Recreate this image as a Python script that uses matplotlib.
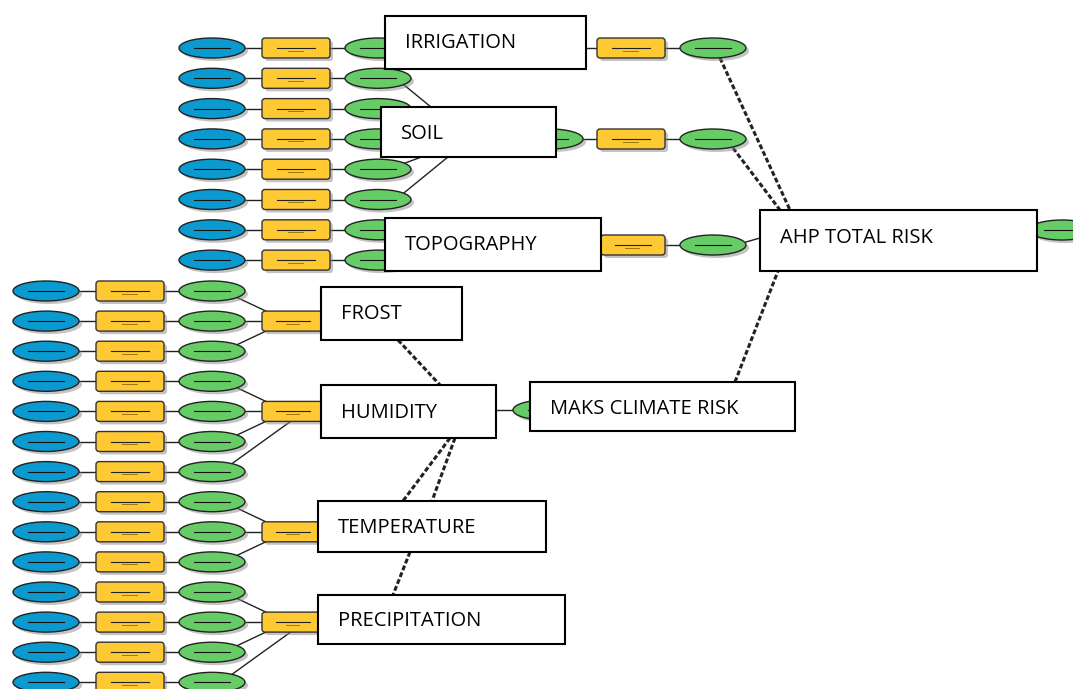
import matplotlib
matplotlib.use('Agg')
import matplotlib.pyplot as plt
from matplotlib.patches import Ellipse, FancyBboxPatch, Rectangle

# model structure: factor groups and number of input rows feeding each one
site_groups = ['IRRIGATION', 'SOIL', 'TOPOGRAPHY']
site_rows = [1, 5, 2]
climate_groups = ['FROST', 'HUMIDITY', 'TEMPERATURE', 'PRECIPITATION']
climate_rows = [3, 4, 3, 4]
total_label = 'AHP TOTAL RISK'
climate_label = 'MAKS CLIMATE RISK'

BLUE = '#0A9AD0'
YELLOW = '#FFC933'
GREEN = '#66CC66'
plt.rcParams['font.family'] = ['Open Sans', 'DejaVu Sans']

fig = plt.figure(figsize=(10.73, 6.89), dpi=100)
ax = fig.add_axes([0, 0, 1, 1])
ax.set_xlim(0, 1073)
ax.set_ylim(689, 0)
ax.axis('off')


def oval(cx, cy, color, w=66, h=20, z=3):
    ax.add_patch(Ellipse((cx + 3, cy + 3), w, h, color='#888888', alpha=0.5, lw=0, zorder=z - 0.5))
    ax.add_patch(Ellipse((cx, cy), w, h, fc=color, ec='#222222', lw=1, zorder=z))
    ax.plot([cx - w * 0.28, cx + w * 0.28], [cy, cy], color='#111111', lw=0.8, zorder=z + 0.1)


def tool(x0, cy, w=68, h=20, z=3):
    ax.add_patch(FancyBboxPatch((x0 + 3, cy - h / 2 + 3), w, h, boxstyle='round,pad=0,rounding_size=3',
                                fc='#888888', alpha=0.5, lw=0, zorder=z - 0.5))
    ax.add_patch(FancyBboxPatch((x0, cy - h / 2), w, h, boxstyle='round,pad=0,rounding_size=3',
                                fc=YELLOW, ec='#333333', lw=1, zorder=z))
    ax.plot([x0 + w * 0.22, x0 + w * 0.78], [cy, cy], color='#222222', lw=0.8, zorder=z + 0.1)
    ax.plot([x0 + w * 0.38, x0 + w * 0.6], [cy + 2.5, cy + 2.5], color='#8a6a00', lw=0.6, zorder=z + 0.1)


def link(xs, ys, dashed=False, z=1):
    if dashed:
        ax.plot(xs, ys, color='#222222', lw=2.2, ls=(0, (1.6, 0.8)), zorder=z)
    else:
        ax.plot(xs, ys, color='#222222', lw=1, zorder=z)


def label_box(x0, y0, x1, y1, text, ty):
    ax.add_patch(Rectangle((x0, y0), x1 - x0, y1 - y0, fc='white', ec='black', lw=1.5, zorder=10))
    ax.text(x0 + 20, ty, text, fontsize=14.5, va='center', ha='left', zorder=11)


# input chains: blue -> yellow -> green
def chains(rows_y, bx, yx, gx):
    for y in rows_y:
        link([bx + 33, yx], [y, y], z=2)
        link([yx + 68, gx - 33], [y, y], z=2)
        oval(bx, y, BLUE)
        tool(yx, y)
        oval(gx, y, GREEN)


# top (site) block
top_y = [48 + i * 30.3 for i in range(sum(site_rows))]
chains(top_y, 212, 262, 378)
# soil rows converge behind the SOIL box
for y in top_y[1:6]:
    link([402, 470], [y + (5 if y < 139 else -5), 139], z=2)

# bottom (climate) block
bot_y = [291 + i * 30.1 for i in range(sum(climate_rows))]
chains(bot_y, 46, 96, 212)
junction_x = [262, 262, 262, 262]
start = 0
for n, jx in zip(climate_rows, junction_x):
    ys = bot_y[start:start + n]
    jy = ys[1]
    for k, y in enumerate(ys):
        if k == 0:
            link([236, jx + 6], [y + 6, jy - 9], z=2)
        elif k == 1:
            link([245, jx], [y, jy], z=2)
        elif k == 2:
            link([236, jx + 6], [y - 6, jy + 9], z=2)
        else:
            link([232, jx + 30], [y - 8, jy + 9], z=2)
    tool(jx, jy, w=62)
    start += n

# right side chains of site factors
link([586, 597], [48, 48], z=2)
tool(597, 48)
oval(713, 48, GREEN)
link([665, 680], [48, 48], z=2)

oval(550, 139, GREEN)
link([583, 597], [139, 139], z=2)
tool(597, 139)
link([665, 680], [139, 139], z=2)
oval(713, 139, GREEN)

tool(601, 245, w=64)
link([665, 680], [245, 245], z=2)
oval(713, 245, GREEN)
link([746, 760], [242, 238], z=2)

# outputs
oval(1062, 230, GREEN, z=9)
oval(546, 410, GREEN, z=4)
link([496, 513], [410, 410], z=2)

# dashed weight links
link([720, 790], [58, 210], dashed=True)
link([733, 780], [148, 210], dashed=True)
link([735, 778], [382, 271], dashed=True)
link([398, 440], [340, 385], dashed=True)
link([450, 403], [438, 501], dashed=True)
link([455, 432], [438, 501], dashed=True)
link([410, 393], [552, 595], dashed=True)

# label boxes
label_box(385, 16, 586, 69, site_groups[0], 43)
label_box(381, 107, 556, 157, site_groups[1], 134)
label_box(385, 218, 601, 271, site_groups[2], 245)
label_box(760, 210, 1037, 271, total_label, 238)
label_box(321, 287, 462, 340, climate_groups[0], 314)
label_box(321, 385, 496, 438, climate_groups[1], 413)
label_box(318, 501, 546, 552, climate_groups[2], 528)
label_box(318, 595, 565, 644, climate_groups[3], 621)
label_box(530, 382, 795, 431, climate_label, 409)

fig.savefig('out.png', dpi=100)
